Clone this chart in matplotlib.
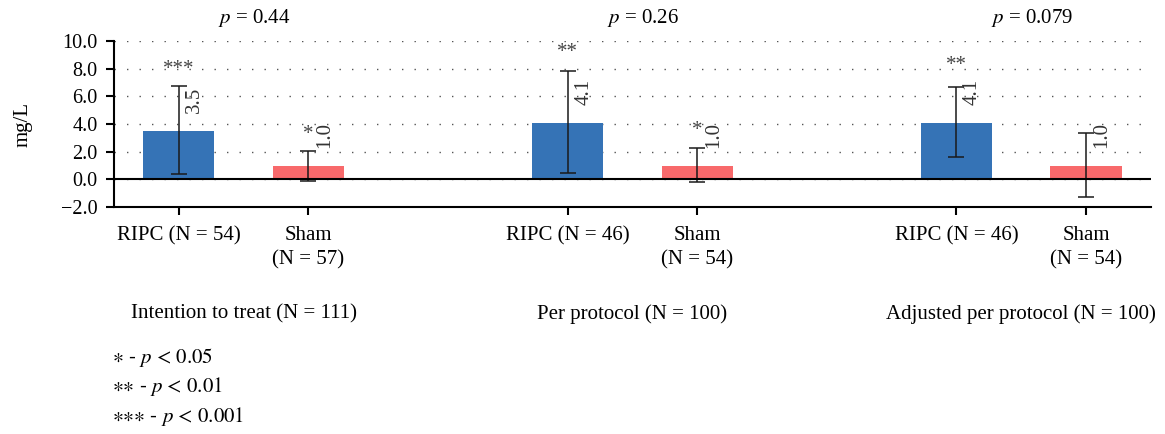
import matplotlib
matplotlib.use("Agg")
import matplotlib.pyplot as plt
import matplotlib.transforms as mtransforms

plt.rcParams['font.family'] = ['Liberation Serif', 'DejaVu Serif']
plt.rcParams['mathtext.fontset'] = 'stix'

# Dados
posicoes = [0, 1, 3, 4, 6, 7]
medias = [3.5, 1.0, 4.1, 1.0, 4.1, 1.0]
erro_inf = [0.36, -0.14, 0.43, -0.2, 1.6, -1.3]
erro_sup = [6.74, 2.05, 7.83, 2.25, 6.67, 3.33]
cores = ['#3573b6', '#f8696b'] * 3
rotulos_barras = ["3.5", "1.0", "4.1", "1.0", "4.1", "1.0"]
estrelas = ["***", "*", "**", "*", "**", ""]
estrelas_y = [7.97, 3.26, 9.2, 3.55, 8.2, 0]
rotulos_x = ["RIPC (N = 54)", "Sham\n(N = 57)",
             "RIPC (N = 46)", "Sham\n(N = 54)",
             "RIPC (N = 46)", "Sham\n(N = 54)"]
grupos = ["Intention to treat (N = 111)", "Per protocol (N = 100)",
          "Adjusted per protocol (N = 100)"]
grupos_x = [0.5, 3.5, 6.5]
p_valores = ["0.44", "0.26", "0.079"]
legenda = ["\u2217 - $p$ < 0.05", "\u2217\u2217 - $p$ < 0.01", "\u2217\u2217\u2217 - $p$ < 0.001"]

fs = 14.5
fs2 = 15
fig = plt.figure(figsize=(11.65, 4.34), dpi=100)
ax = fig.add_axes([0.0979, 0.523, 0.890, 0.3825])

yerr = [[m - lo for m, lo in zip(medias, erro_inf)],
        [hi - m for m, hi in zip(medias, erro_sup)]]
ax.bar(posicoes, medias, width=0.55, color=cores, zorder=2)
ax.errorbar(posicoes, medias, yerr=yerr, fmt='none', ecolor='#1a1a1a',
            elinewidth=1.1, capsize=6, capthick=1.1, zorder=3)
ax.axhline(0, color='black', lw=1.5, zorder=4)

# rótulos de valor (girados) e asteriscos
for x, m, r in zip(posicoes, medias, rotulos_barras):
    ax.annotate(r, (x, m), xytext=(16, 18), textcoords='offset pixels',
                rotation=90, ha='center', va='bottom', fontsize=fs2, color='#333333')
for x, e, ey in zip(posicoes, estrelas, estrelas_y):
    if e:
        ax.text(x, ey, e, ha='center', va='center', fontsize=fs2, color='#444444')

for gx, p in zip(grupos_x, p_valores):
    ax.text(gx + 0.08, 11.65, "$p$ = " + p, ha='center', va='center',
            fontsize=fs2, clip_on=False)

ax.set_xlim(-0.5, 7.5)
ax.set_ylim(-2, 10)
ax.set_yticks([-2, 0, 2, 4, 6, 8, 10])
ax.set_yticklabels(["\u22122.0", "0.0", "2.0", "4.0", "6.0", "8.0", "10.0"], fontsize=fs)
ax.set_xticks(posicoes)
ax.set_xticklabels(rotulos_x, fontsize=fs2, linespacing=1.3)
ax.tick_params(axis='both', direction='out', length=6, width=1.5)
ax.tick_params(axis='x', pad=8)
ax.tick_params(axis='y', pad=6)
ax.set_ylabel("mg/L", fontsize=fs2, labelpad=20)

for lado in ['top', 'right']:
    ax.spines[lado].set_visible(False)
for lado in ['left', 'bottom']:
    ax.spines[lado].set_linewidth(1.5)

ax.yaxis.grid(True, linestyle=(0, (1, 8)), color='#555555', lw=1)
ax.set_axisbelow(True)

trans = mtransforms.blended_transform_factory(ax.transData, fig.transFigure)
for gx, g in zip(grupos_x, grupos):
    ax.text(gx, 0.277, g, transform=trans, ha='center', va='center', fontsize=fs2)

for i, linha in enumerate(legenda):
    fig.text(0.096, 0.177 - i * 0.068, linha, ha='left', va='center',
             fontsize=fs2, family=['STIXGeneral', 'DejaVu Serif'])

fig.savefig("out.png", dpi=100)
